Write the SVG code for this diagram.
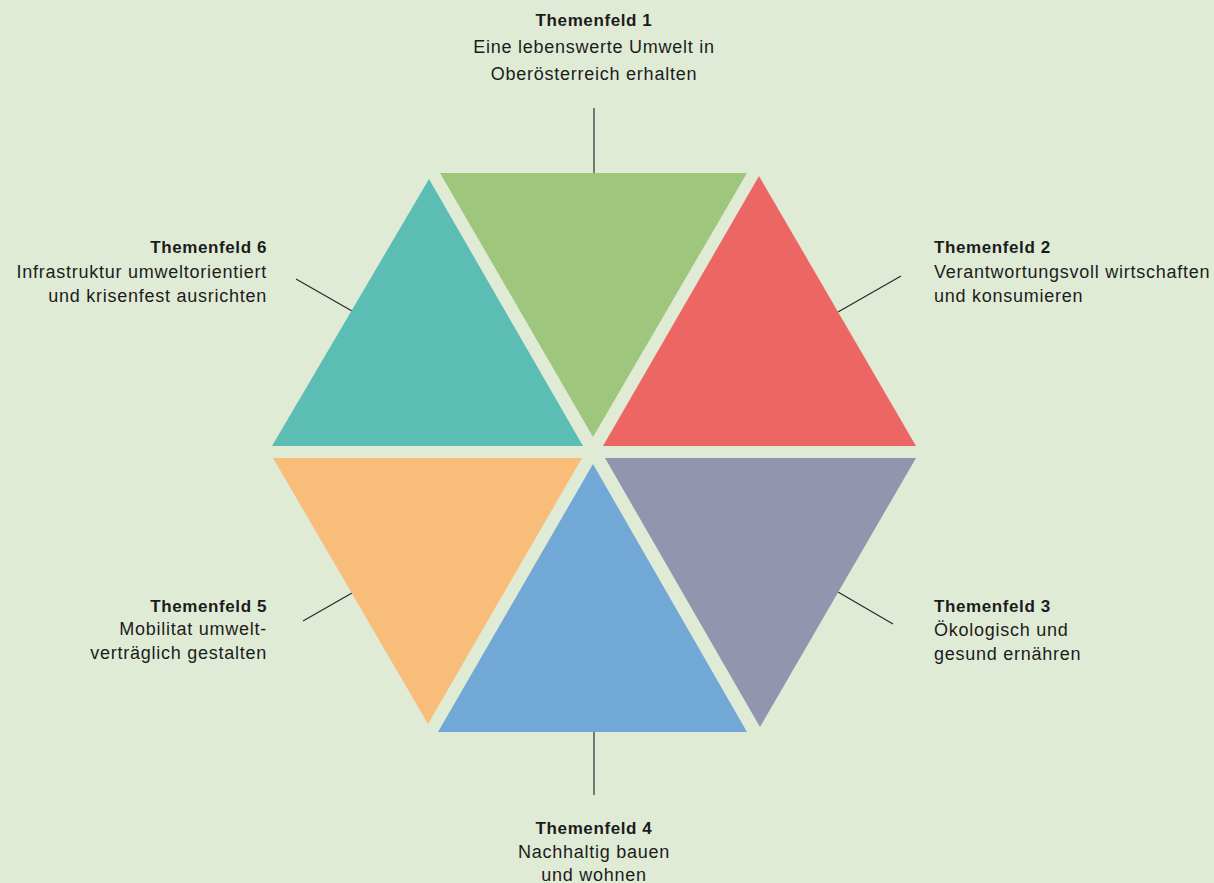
<svg xmlns="http://www.w3.org/2000/svg" width="1214" height="883" viewBox="0 0 1214 883">
<style>
.t{font-family:"Liberation Sans",Arial,sans-serif;font-size:18px;fill:#1c1c1c;letter-spacing:0.75px}
.b{font-weight:bold;font-size:17px;letter-spacing:0.6px}
.m{text-anchor:middle}
.e{text-anchor:end}
.c{stroke:#2a2a2a;stroke-width:1.2;fill:none}
</style>
<rect width="1214" height="883" fill="#e0ebd6"/>
<g id="connectors">
<line class="c" x1="594" y1="108" x2="594" y2="173"/>
<line class="c" x1="838" y1="312" x2="901" y2="276"/>
<line class="c" x1="838" y1="592" x2="893" y2="624"/>
<line class="c" x1="594" y1="732" x2="594" y2="795"/>
<line class="c" x1="303" y1="621" x2="352" y2="593"/>
<line class="c" x1="296" y1="279" x2="352" y2="311"/>
</g>
<g id="tri1"><polygon points="440,173 747,173 593,437" fill="#9fc67d"/></g>
<g id="tri2"><polygon points="759,176 603,446 916,446" fill="#ec6664"/></g>
<g id="tri3"><polygon points="605,458 916,458 760,727" fill="#9394ae"/></g>
<g id="tri4"><polygon points="593,464 438,732 747,732" fill="#72a8d5"/></g>
<g id="tri5"><polygon points="273,458 582,458 428,724" fill="#f8bd79"/></g>
<g id="tri6"><polygon points="429,179 272,446 583,446" fill="#5bbdb4"/></g>
<g id="label1" class="t m">
<text x="594" y="26" class="b">Themenfeld 1</text>
<text x="594" y="53">Eine lebenswerte Umwelt in</text>
<text x="594" y="80">Oberösterreich erhalten</text>
</g>
<g id="label2" class="t">
<text x="934" y="253" class="b">Themenfeld 2</text>
<text x="934" y="278">Verantwortungsvoll wirtschaften</text>
<text x="934" y="302">und konsumieren</text>
</g>
<g id="label3" class="t">
<text x="934" y="612" class="b">Themenfeld 3</text>
<text x="934" y="636">Ökologisch und</text>
<text x="934" y="660">gesund ernähren</text>
</g>
<g id="label4" class="t m">
<text x="594" y="834" class="b">Themenfeld 4</text>
<text x="594" y="858">Nachhaltig bauen</text>
<text x="594" y="881">und wohnen</text>
</g>
<g id="label5" class="t e">
<text x="267" y="612" class="b">Themenfeld 5</text>
<text x="267" y="635">Mobilitat umwelt-</text>
<text x="267" y="659">verträglich gestalten</text>
</g>
<g id="label6" class="t e">
<text x="267" y="253" class="b">Themenfeld 6</text>
<text x="267" y="278">Infrastruktur umweltorientiert</text>
<text x="267" y="302">und krisenfest ausrichten</text>
</g>
</svg>
